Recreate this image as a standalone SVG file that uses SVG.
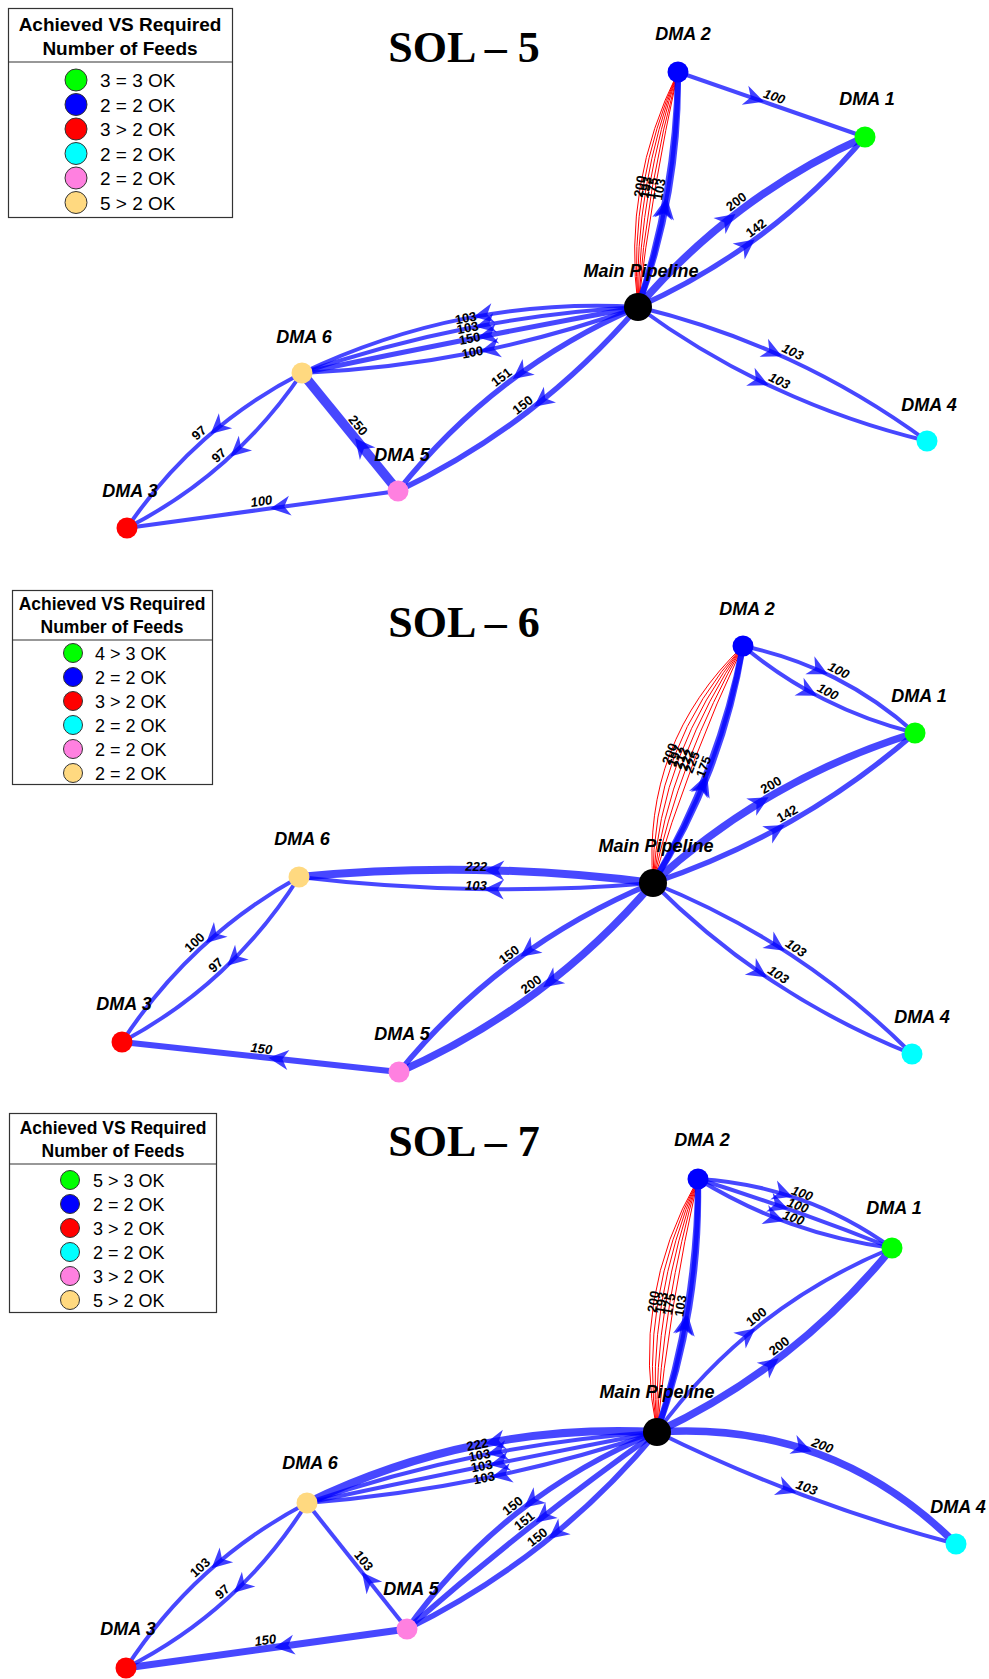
<svg xmlns="http://www.w3.org/2000/svg" width="989" height="1679" viewBox="0 0 989 1679">
<style>
.e{fill:none;stroke:#0000ff;stroke-opacity:0.72;stroke-linecap:butt;marker-mid:url(#ar)}
.r{fill:none;stroke:#ff0000;stroke-width:1}
.l{font-family:"Liberation Sans",Arial,sans-serif;font-size:13px;font-weight:bold;text-anchor:middle;fill:#000}
.i{font-style:italic}
.n{font-family:"Liberation Sans",Arial,sans-serif;font-size:18px;font-weight:bold;font-style:italic;text-anchor:middle;fill:#000}
.t{font-family:"Liberation Serif","Times New Roman",serif;font-size:44px;font-weight:bold;text-anchor:middle;fill:#000}
.lb{fill:#fff;stroke:#333;stroke-width:1.2}
.lh{font-family:"Liberation Sans",Arial,sans-serif;font-weight:bold;text-anchor:middle;fill:#000}
.lt{font-family:"Liberation Sans",Arial,sans-serif;fill:#000}
.lc{stroke:#333;stroke-width:1}
</style>
<defs>
<marker id="ar" markerUnits="userSpaceOnUse" markerWidth="30" markerHeight="24" viewBox="-24 -12 30 24" refX="8" refY="0" orient="auto" overflow="visible">
<path d="M0 0 L-20 -10 L-14 0 L-20 10 Z" fill="#0000ff" fill-opacity="0.75"/>
</marker>
</defs>
<rect width="989" height="1679" fill="#fff"/>

<!-- titles -->
<text class="t" x="464" y="62">SOL – 5</text>
<text class="t" x="464" y="637">SOL – 6</text>
<text class="t" x="464" y="1156">SOL – 7</text>

<!-- legends -->
<g id="legend5">
<rect class="lb" x="8.5" y="8.5" width="224" height="209"/>
<line x1="8.5" y1="62" x2="232.5" y2="62" stroke="#333" stroke-width="1.2"/>
<text class="lh" x="120" y="31" font-size="19">Achieved VS Required</text>
<text class="lh" x="120" y="55" font-size="19">Number of Feeds</text>
<g font-size="19">
<circle class="lc" cx="76" cy="80" r="11" fill="#00ff00"/><text class="lt" x="100" y="87">3 = 3 OK</text>
<circle class="lc" cx="76" cy="104.5" r="11" fill="#0000ff"/><text class="lt" x="100" y="111.5">2 = 2 OK</text>
<circle class="lc" cx="76" cy="129" r="11" fill="#ff0000"/><text class="lt" x="100" y="136">3 &gt; 2 OK</text>
<circle class="lc" cx="76" cy="153.5" r="11" fill="#00ffff"/><text class="lt" x="100" y="160.5">2 = 2 OK</text>
<circle class="lc" cx="76" cy="178" r="11" fill="#ff80e0"/><text class="lt" x="100" y="185">2 = 2 OK</text>
<circle class="lc" cx="76" cy="202.5" r="11" fill="#ffd980"/><text class="lt" x="100" y="209.5">5 &gt; 2 OK</text>
</g>
</g>
<g id="legend6">
<rect class="lb" x="12.5" y="590.5" width="200" height="194"/>
<line x1="12.5" y1="640" x2="212.5" y2="640" stroke="#333" stroke-width="1.2"/>
<text class="lh" x="112" y="610" font-size="17.5">Achieved VS Required</text>
<text class="lh" x="112" y="633" font-size="17.5">Number of Feeds</text>
<g font-size="18">
<circle class="lc" cx="73" cy="653" r="9.5" fill="#00ff00"/><text class="lt" x="95" y="659.5">4 &gt; 3 OK</text>
<circle class="lc" cx="73" cy="677" r="9.5" fill="#0000ff"/><text class="lt" x="95" y="683.5">2 = 2 OK</text>
<circle class="lc" cx="73" cy="701" r="9.5" fill="#ff0000"/><text class="lt" x="95" y="707.5">3 &gt; 2 OK</text>
<circle class="lc" cx="73" cy="725" r="9.5" fill="#00ffff"/><text class="lt" x="95" y="731.5">2 = 2 OK</text>
<circle class="lc" cx="73" cy="749" r="9.5" fill="#ff80e0"/><text class="lt" x="95" y="755.5">2 = 2 OK</text>
<circle class="lc" cx="73" cy="773" r="9.5" fill="#ffd980"/><text class="lt" x="95" y="779.5">2 = 2 OK</text>
</g>
</g>
<g id="legend7">
<rect class="lb" x="9.5" y="1113.5" width="207" height="199"/>
<line x1="9.5" y1="1164" x2="216.5" y2="1164" stroke="#333" stroke-width="1.2"/>
<text class="lh" x="113" y="1134" font-size="17.5">Achieved VS Required</text>
<text class="lh" x="113" y="1157" font-size="17.5">Number of Feeds</text>
<g font-size="18">
<circle class="lc" cx="70" cy="1180" r="9.5" fill="#00ff00"/><text class="lt" x="93" y="1186.5">5 &gt; 3 OK</text>
<circle class="lc" cx="70" cy="1204" r="9.5" fill="#0000ff"/><text class="lt" x="93" y="1210.5">2 = 2 OK</text>
<circle class="lc" cx="70" cy="1228" r="9.5" fill="#ff0000"/><text class="lt" x="93" y="1234.5">3 &gt; 2 OK</text>
<circle class="lc" cx="70" cy="1252" r="9.5" fill="#00ffff"/><text class="lt" x="93" y="1258.5">2 = 2 OK</text>
<circle class="lc" cx="70" cy="1276" r="9.5" fill="#ff80e0"/><text class="lt" x="93" y="1282.5">3 &gt; 2 OK</text>
<circle class="lc" cx="70" cy="1300" r="9.5" fill="#ffd980"/><text class="lt" x="93" y="1306.5">5 &gt; 2 OK</text>
</g>
</g>

<g id="connectors">
<!-- SOL-5 -->
<path class="r" d="M638 307 Q652.1 188.5 678 72"/>
<path class="r" d="M638 307 Q646.2 187.5 678 72"/>
<path class="r" d="M638 307 Q640.3 186.5 678 72"/>
<path class="r" d="M638 307 Q634.3 185.5 678 72"/>
<path class="r" d="M638 307 Q628.4 184.5 678 72"/>
<path class="r" d="M638 307 Q622.5 183.5 678 72"/>
<path class="e" stroke-width="6" d="M638 307 Q658.8 250.1 668.8 191.3 Q678.8 132.6 678 72"/>
<path class="e" stroke-width="6" d="M638 307 Q656.9 249.8 666.9 191 Q676.9 132.3 678 72"/>
<path class="e" stroke-width="4" d="M678 72 L771.5 104.5 L865 137"/>
<path class="e" stroke-width="7.5" d="M638 307 Q685.2 251.7 741.9 209.2 Q798.7 166.7 865 137"/>
<path class="e" stroke-width="5.3" d="M638 307 Q704.3 277.3 761.1 234.8 Q817.8 192.3 865 137"/>
<path class="e" stroke-width="4" d="M638 307 Q717 326 789.2 359.5 Q861.5 393 927 441"/>
<path class="e" stroke-width="4" d="M638 307 Q703.5 355 775.8 388.5 Q848 422 927 441"/>
<path class="e" stroke-width="4" d="M638 307 Q549.75 301.9 465.75 318.4 Q381.75 334.9 302 373"/>
<path class="e" stroke-width="4" d="M638 307 Q551.7 311.7 467.7 328.2 Q383.7 344.7 302 373"/>
<path class="e" stroke-width="5" d="M638 307 Q553.8 322.5 469.8 339 Q385.8 355.5 302 373"/>
<path class="e" stroke-width="4" d="M638 307 Q556.5 336.25 472.5 352.75 Q388.5 369.25 302 373"/>
<path class="e" stroke-width="5.5" d="M638 307 Q566.45 337.9 506.45 383.9 Q446.45 429.9 398 491"/>
<path class="e" stroke-width="5.5" d="M638 307 Q587.7 365.7 527.7 411.7 Q467.7 457.7 398 491"/>
<path class="e" stroke-width="9.5" d="M398 491 L350 432 L302 373"/>
<path class="e" stroke-width="4" d="M302 373 Q248.3 400.55 204.55 439.3 Q160.8 478.05 127 528"/>
<path class="e" stroke-width="4" d="M302 373 Q268.2 422.95 224.45 461.7 Q180.7 500.45 127 528"/>
<path class="e" stroke-width="4" d="M398 491 L262.5 509.5 L127 528"/>
<!-- SOL-6 -->
<path class="r" d="M653 883 Q688.65 760.95 743 646"/>
<path class="r" d="M653 883 Q679.3 757.4 743 646"/>
<path class="r" d="M653 883 Q669.95 753.85 743 646"/>
<path class="r" d="M653 883 Q660.6 750.3 743 646"/>
<path class="r" d="M653 883 Q651.25 746.75 743 646"/>
<path class="r" d="M653 883 Q641.9 743.2 743 646"/>
<path class="e" stroke-width="6" d="M653 883 Q687.7 828.3 710.2 769.1 Q732.7 709.9 743 646"/>
<path class="e" stroke-width="6" d="M653 883 Q685.8 827.6 708.3 768.4 Q730.8 709.2 743 646"/>
<path class="e" stroke-width="4" d="M743 646 Q791.86 656.15 834.86 677.9 Q877.86 699.65 915 733"/>
<path class="e" stroke-width="4" d="M743 646 Q781.04 677.56 824.04 699.31 Q867.04 721.06 915 733"/>
<path class="e" stroke-width="7.5" d="M653 883 Q710.05 830.74 775.55 793.24 Q841.05 755.74 915 733"/>
<path class="e" stroke-width="5.3" d="M653 883 Q725.96 858.52 791.46 821.02 Q856.96 783.52 915 733"/>
<path class="e" stroke-width="4" d="M653 883 Q726.57 912.41 791.32 955.16 Q856.07 997.91 912 1054"/>
<path class="e" stroke-width="4" d="M653 883 Q708.93 939.09 773.68 981.84 Q838.43 1024.59 912 1054"/>
<path class="e" stroke-width="8" d="M653 883 Q564.67 871.5 476.17 870 Q387.67 868.5 299 877"/>
<path class="e" stroke-width="4" d="M653 883 Q564.35 890.5 475.85 889 Q387.35 887.5 299 877"/>
<path class="e" stroke-width="5.5" d="M653 883 Q577.56 914.21 514.06 961.46 Q450.56 1008.71 399 1072"/>
<path class="e" stroke-width="7.5" d="M653 883 Q600.25 944.69 536.75 991.94 Q473.25 1039.19 399 1072"/>
<path class="e" stroke-width="4" d="M299 877 Q244.52 907.28 200.27 948.53 Q156.02 989.78 122 1042"/>
<path class="e" stroke-width="4" d="M299 877 Q265.66 929.95 221.41 971.2 Q177.16 1012.45 122 1042"/>
<path class="e" stroke-width="6" d="M399 1072 L260.5 1057 L122 1042"/>
<!-- SOL-7 -->
<path class="r" d="M657 1432 Q669.6 1304.2 698 1179"/>
<path class="r" d="M657 1432 Q661.7 1302.9 698 1179"/>
<path class="r" d="M657 1432 Q653.8 1301.7 698 1179"/>
<path class="r" d="M657 1432 Q645.9 1300.4 698 1179"/>
<path class="r" d="M657 1432 Q638 1299.1 698 1179"/>
<path class="r" d="M657 1432 Q630.1 1297.8 698 1179"/>
<path class="e" stroke-width="6" d="M657 1432 Q679.1 1370.7 689.3 1307.4 Q699.6 1244.2 698 1179"/>
<path class="e" stroke-width="6" d="M657 1432 Q677.1 1370.4 687.4 1307.1 Q697.6 1243.8 698 1179"/>
<path class="e" stroke-width="4" d="M698 1179 Q751.5 1182.1 800 1199.4 Q848.5 1216.6 892 1248"/>
<path class="e" stroke-width="4" d="M698 1179 Q747.2 1194.4 795.7 1211.6 Q844.2 1228.9 892 1248"/>
<path class="e" stroke-width="4" d="M698 1179 Q742.8 1206.6 791.3 1223.9 Q839.8 1241.1 892 1248"/>
<path class="e" stroke-width="4" d="M657 1432 Q702.81 1369.47 761.56 1323.47 Q820.31 1277.47 892 1248"/>
<path class="e" stroke-width="7.5" d="M657 1432 Q726.22 1399.38 784.97 1353.38 Q843.72 1307.38 892 1248"/>
<path class="e" stroke-width="7.5" d="M657 1432 Q744.39 1426.3 819.14 1454.3 Q893.89 1482.3 956 1544"/>
<path class="e" stroke-width="4" d="M657 1432 Q728.94 1467.49 803.69 1495.49 Q878.44 1523.49 956 1544"/>
<path class="e" stroke-width="8" d="M657 1432 Q564.9 1427.2 477.4 1445 Q389.9 1462.7 307 1503"/>
<path class="e" stroke-width="4" d="M657 1432 Q567.1 1438 479.6 1455.7 Q392.1 1473.5 307 1503"/>
<path class="e" stroke-width="4" d="M657 1432 Q569.3 1448.8 481.8 1466.5 Q394.3 1484.3 307 1503"/>
<path class="e" stroke-width="4" d="M657 1432 Q571.7 1460.5 484.2 1478.3 Q396.7 1496 307 1503"/>
<path class="e" stroke-width="5.5" d="M657 1432 Q580.3 1463.2 517.8 1512.4 Q455.3 1561.7 407 1629"/>
<path class="e" stroke-width="5.5" d="M657 1432 Q592 1478.1 529.5 1527.4 Q467 1576.6 407 1629"/>
<path class="e" stroke-width="5.5" d="M657 1432 Q605 1494.6 542.5 1543.8 Q480 1593.1 407 1629"/>
<path class="e" stroke-width="4" d="M407 1629 L357 1566 L307 1503"/>
<path class="e" stroke-width="4" d="M307 1503 Q250.97 1532.43 205.72 1573.68 Q160.47 1614.93 126 1668"/>
<path class="e" stroke-width="4" d="M307 1503 Q273.21 1556.81 227.96 1598.06 Q182.71 1639.31 126 1668"/>
<path class="e" stroke-width="7" d="M407 1629 L266.5 1648.5 L126 1668"/>
</g>

<g id="edge-labels">
<!-- SOL-5 -->
<text class="l" transform="translate(640.3 186.5) rotate(-80.3)" y="4">200</text>
<text class="l" transform="translate(646.2 187.5) rotate(-80.3)" y="4">193</text>
<text class="l" transform="translate(652.1 188.5) rotate(-80.3)" y="4">175</text>
<text class="l" transform="translate(660 189.5) rotate(-80.3)" y="4">103</text>
<text class="l i" transform="translate(771.5 104.5) rotate(19.2)" y="-4">100</text>
<text class="l" transform="translate(741.9 209.2) rotate(-36.8)" y="-5">200</text>
<text class="l" transform="translate(761.1 234.8) rotate(-36.8)" y="-4">142</text>
<text class="l i" transform="translate(789.2 359.5) rotate(24.9)" y="-4">103</text>
<text class="l i" transform="translate(775.8 388.5) rotate(24.9)" y="-4">103</text>
<text class="l" transform="translate(465.75 318.4) rotate(-11.1)" y="4">103</text>
<text class="l" transform="translate(467.7 328.2) rotate(-11.1)" y="4">103</text>
<text class="l" transform="translate(469.8 339) rotate(-11.1)" y="4">150</text>
<text class="l" transform="translate(472.5 352.75) rotate(-11.1)" y="4">100</text>
<text class="l" transform="translate(506.45 383.9) rotate(-37.5)" y="-4">151</text>
<text class="l" transform="translate(527.7 411.7) rotate(-37.5)" y="-4">150</text>
<text class="l" transform="translate(350 432) rotate(50.9)" y="-6">250</text>
<text class="l" transform="translate(204.55 439.3) rotate(-41.5)" y="-4">97</text>
<text class="l" transform="translate(224.45 461.7) rotate(-41.5)" y="-4">97</text>
<text class="l i" transform="translate(262.5 509.5) rotate(-7.8)" y="-4">100</text>
<!-- SOL-6 -->
<text class="l" transform="translate(670 753.85) rotate(-69.2)" y="4">200</text>
<text class="l" transform="translate(675.6 756) rotate(-69.2)" y="4">197</text>
<text class="l" transform="translate(681.2 758.1) rotate(-69.2)" y="4">212</text>
<text class="l" transform="translate(686.8 760.2) rotate(-69.2)" y="4">222</text>
<text class="l" transform="translate(692.4 762.4) rotate(-69.2)" y="4">225</text>
<text class="l" transform="translate(704 767) rotate(-69.2)" y="4">175</text>
<text class="l i" transform="translate(834.86 677.9) rotate(26.8)" y="-4">100</text>
<text class="l i" transform="translate(824.04 699.31) rotate(26.8)" y="-4">100</text>
<text class="l" transform="translate(775.55 793.24) rotate(-29.8)" y="-5">200</text>
<text class="l" transform="translate(791.46 821.02) rotate(-29.8)" y="-4">142</text>
<text class="l i" transform="translate(791.32 955.16) rotate(33.4)" y="-4">103</text>
<text class="l i" transform="translate(773.68 981.84) rotate(33.4)" y="-4">103</text>
<text class="l i" transform="translate(476.17 870) rotate(1)" y="1">222</text>
<text class="l i" transform="translate(475.85 889) rotate(1)" y="1">103</text>
<text class="l" transform="translate(514.06 961.46) rotate(-36.65)" y="-4">150</text>
<text class="l" transform="translate(536.75 991.94) rotate(-36.65)" y="-5">200</text>
<text class="l" transform="translate(200.27 948.53) rotate(-43)" y="-4">100</text>
<text class="l" transform="translate(221.41 971.2) rotate(-43)" y="-4">97</text>
<text class="l i" transform="translate(260.5 1057) rotate(6.2)" y="-4">150</text>
<!-- SOL-7 -->
<text class="l" transform="translate(653.8 1301.7) rotate(-80.8)" y="4">200</text>
<text class="l" transform="translate(661.7 1302.9) rotate(-80.8)" y="4">193</text>
<text class="l" transform="translate(669.6 1304.2) rotate(-80.8)" y="4">175</text>
<text class="l" transform="translate(681 1306) rotate(-80.8)" y="4">103</text>
<text class="l i" transform="translate(800 1199.4) rotate(19.6)" y="-2">100</text>
<text class="l i" transform="translate(795.7 1211.6) rotate(19.6)" y="-2">100</text>
<text class="l i" transform="translate(791.3 1223.9) rotate(19.6)" y="-2">100</text>
<text class="l" transform="translate(761.56 1323.47) rotate(-38)" y="-4">100</text>
<text class="l" transform="translate(784.97 1353.38) rotate(-38)" y="-5">200</text>
<text class="l i" transform="translate(819.14 1454.3) rotate(20.6)" y="-5">200</text>
<text class="l i" transform="translate(803.69 1495.49) rotate(20.6)" y="-4">103</text>
<text class="l" transform="translate(477.4 1445) rotate(-11.5)" y="4">222</text>
<text class="l" transform="translate(479.6 1455.7) rotate(-11.5)" y="4">103</text>
<text class="l" transform="translate(481.8 1466.5) rotate(-11.5)" y="4">103</text>
<text class="l" transform="translate(484.2 1478.3) rotate(-11.5)" y="4">103</text>
<text class="l" transform="translate(517.8 1512.4) rotate(-38.2)" y="-4">150</text>
<text class="l" transform="translate(529.5 1527.4) rotate(-38.2)" y="-4">151</text>
<text class="l" transform="translate(542.5 1543.8) rotate(-38.2)" y="-4">150</text>
<text class="l" transform="translate(357 1566) rotate(51.6)" y="-4">103</text>
<text class="l" transform="translate(205.72 1573.68) rotate(-42.3)" y="-4">103</text>
<text class="l" transform="translate(227.96 1598.06) rotate(-42.3)" y="-4">97</text>
<text class="l i" transform="translate(266.5 1648.5) rotate(-7.9)" y="-4">150</text>
</g>

<!-- SOL-5 nodes -->
<g id="s5-dma2"><circle cx="678" cy="72" r="10.5" fill="#0000ff"/><text class="n" x="683" y="40">DMA 2</text></g>
<g id="s5-dma1"><circle cx="865" cy="137" r="10.5" fill="#00ff00"/><text class="n" x="867" y="105">DMA 1</text></g>
<g id="s5-main"><circle cx="638" cy="307" r="14" fill="#000"/><text class="n" x="641" y="277">Main Pipeline</text></g>
<g id="s5-dma6"><circle cx="302" cy="373" r="10.5" fill="#ffd980"/><text class="n" x="304" y="343">DMA 6</text></g>
<g id="s5-dma5"><circle cx="398" cy="491" r="10.5" fill="#ff80e0"/><text class="n" x="402" y="461">DMA 5</text></g>
<g id="s5-dma3"><circle cx="127" cy="528" r="10.5" fill="#ff0000"/><text class="n" x="130" y="497">DMA 3</text></g>
<g id="s5-dma4"><circle cx="927" cy="441" r="10.5" fill="#00ffff"/><text class="n" x="929" y="411">DMA 4</text></g>
<!-- SOL-6 nodes -->
<g id="s6-dma2"><circle cx="743" cy="646" r="10.5" fill="#0000ff"/><text class="n" x="747" y="615">DMA 2</text></g>
<g id="s6-dma1"><circle cx="915" cy="733" r="10.5" fill="#00ff00"/><text class="n" x="919" y="702">DMA 1</text></g>
<g id="s6-main"><circle cx="653" cy="883" r="14" fill="#000"/><text class="n" x="656" y="852">Main Pipeline</text></g>
<g id="s6-dma6"><circle cx="299" cy="877" r="10.5" fill="#ffd980"/><text class="n" x="302" y="845">DMA 6</text></g>
<g id="s6-dma5"><circle cx="399" cy="1072" r="10.5" fill="#ff80e0"/><text class="n" x="402" y="1040">DMA 5</text></g>
<g id="s6-dma3"><circle cx="122" cy="1042" r="10.5" fill="#ff0000"/><text class="n" x="124" y="1010">DMA 3</text></g>
<g id="s6-dma4"><circle cx="912" cy="1054" r="10.5" fill="#00ffff"/><text class="n" x="922" y="1023">DMA 4</text></g>
<!-- SOL-7 nodes -->
<g id="s7-dma2"><circle cx="698" cy="1179" r="10.5" fill="#0000ff"/><text class="n" x="702" y="1146">DMA 2</text></g>
<g id="s7-dma1"><circle cx="892" cy="1248" r="10.5" fill="#00ff00"/><text class="n" x="894" y="1214">DMA 1</text></g>
<g id="s7-main"><circle cx="657" cy="1432" r="14" fill="#000"/><text class="n" x="657" y="1398">Main Pipeline</text></g>
<g id="s7-dma6"><circle cx="307" cy="1503" r="10.5" fill="#ffd980"/><text class="n" x="310" y="1469">DMA 6</text></g>
<g id="s7-dma5"><circle cx="407" cy="1629" r="10.5" fill="#ff80e0"/><text class="n" x="411" y="1595">DMA 5</text></g>
<g id="s7-dma3"><circle cx="126" cy="1668" r="10.5" fill="#ff0000"/><text class="n" x="128" y="1635">DMA 3</text></g>
<g id="s7-dma4"><circle cx="956" cy="1544" r="10.5" fill="#00ffff"/><text class="n" x="958" y="1513">DMA 4</text></g>
</svg>
